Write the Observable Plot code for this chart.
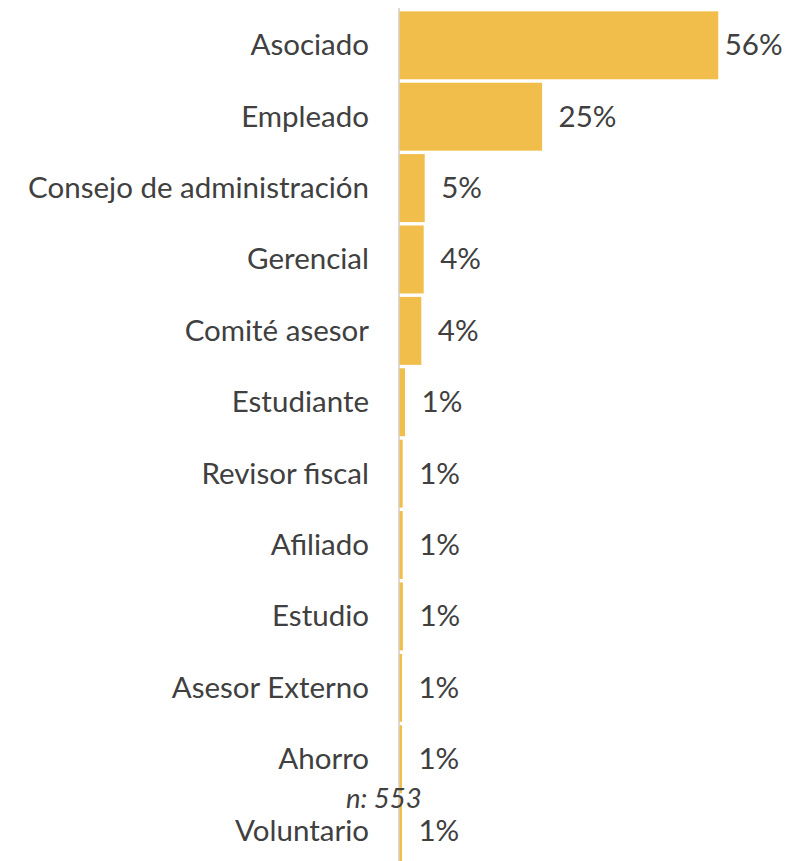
<!DOCTYPE html>
<html>
<head>
<meta charset="utf-8">
<script src="https://cdn.jsdelivr.net/npm/d3@7"></script>
<script src="https://cdn.jsdelivr.net/npm/@observablehq/plot@0.6"></script>
<style>
  html, body { margin: 0; padding: 0; background: #fff; overflow: hidden; }
  #wrap { position: relative; width: 786px; height: 861px; overflow: hidden; }
  #note { position: absolute; left: 346px; top: 781px; font-family: Lato, sans-serif; font-style: italic;
          font-size: 27.5px; line-height: 1.2; color: #404040; white-space: nowrap; }
</style>
</head>
<body>
<div id="wrap"><div id="chart"></div><div id="note">n: 553</div></div>
<script>
const categories = ["Asociado","Empleado","Consejo de administración","Gerencial","Comité asesor","Estudiante","Revisor fiscal","Afiliado","Estudio","Asesor Externo","Ahorro","Voluntario"];
const values = [56.0, 25.05, 4.43, 4.25, 3.83, 0.97, 0.56, 0.56, 0.6, 0.44, 0.44, 0.44];
const labels = ["56%","25%","5%","4%","4%","1%","1%","1%","1%","1%","1%","1%"];

const data = categories.map((c, i) => ({category: c, value: values[i], label: labels[i]}));

const FS = 29.5;
const chart = Plot.plot({
  width: 786,
  height: 868,
  marginLeft: 399.5,
  marginRight: 0,
  marginTop: 7.9,
  marginBottom: 0,
  style: {fontFamily: "Lato, sans-serif", fontSize: FS + "px", color: "#404040", background: "#fff"},
  x: {domain: [0, 67.9], axis: null},
  y: {domain: categories, padding: 0.048, round: false, label: null},
  marks: [
    Plot.ruleX([0], {stroke: "#d9d9d9", strokeWidth: 2, dx: -1}),
    Plot.barX(data, {x: "value", y: "category", fill: "#F1BE4B"}),
    Plot.axisY({tickSize: 0, tickPadding: 31, label: null, fontSize: FS, fill: "#404040"}),
    Plot.text(data.filter(d => d.value < 50), {x: "value", y: "category", text: "label", textAnchor: "start", dx: 16, fill: "#404040", fontSize: FS}),
    Plot.text(data.filter(d => d.value >= 50), {x: "value", y: "category", text: "label", textAnchor: "start", dx: 6, fill: "#404040", fontSize: FS})
  ]
});
document.getElementById("chart").appendChild(chart);
</script>
</body>
</html>
